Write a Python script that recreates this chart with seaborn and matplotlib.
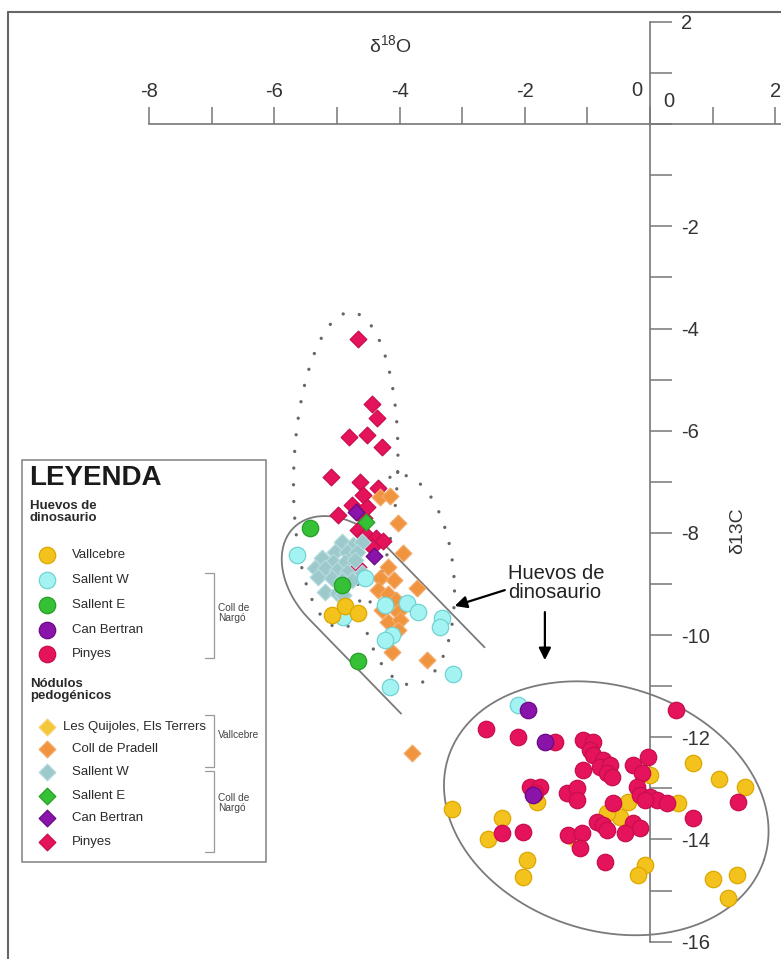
import numpy as np
import pandas as pd
import matplotlib
matplotlib.use("Agg")
import matplotlib.pyplot as plt
import seaborn as sns

# ---------------- data (δ18O, δ13C in ‰) ----------------
# Huevos de dinosaurio (circles)
egg_vallcebre_x = [-5.08, -4.87, -4.66, -3.16, -2.36, -2.59, -1.96, -2.03, -0.35, -0.48, -0.69,
                   0.00, 0.45, 0.69, 1.10, 1.52, -0.08, -0.19, 1.01, 1.39, 1.25, -1.81]
egg_vallcebre_y = [-9.61, -9.43, -9.57, -13.41, -13.58, -13.99, -14.40, -14.74, -13.27, -13.56, -13.48,
                   -12.74, -13.29, -12.50, -12.82, -12.97, -14.50, -14.70, -14.77, -14.70, -15.15, -13.27]

egg_sallentw_x = [-5.64, -4.55, -4.90, -4.23, -3.88, -3.71, -4.12, -4.23, -3.32, -3.35, -3.15, -4.15, -2.11]
egg_sallentw_y = [-8.43, -8.88, -9.65, -9.41, -9.37, -9.55, -10.00, -10.10, -9.67, -9.84, -10.76, -11.02, -11.37]

egg_sallente_x = [-5.43, -4.92, -4.66]
egg_sallente_y = [-7.91, -9.02, -10.51]

egg_canbertran_x = [-1.95, -1.68, -1.87]
egg_canbertran_y = [-11.47, -12.09, -13.13]

egg_pinyes_x = [0.42, -2.62, -2.11, -1.52, -1.07, -0.91, -0.96, -0.91, -0.75, -0.80, -0.64, -0.69,
                -0.61, -1.07, -0.27, -0.03, -0.13, -1.92, -1.76, -1.84, -1.33, -1.17, -1.17, -0.21,
                -0.16, 0.00, 0.11, 0.27, -0.59, -0.08, 1.41, 0.69, -0.85, -0.75, -0.69, -0.27,
                -0.16, -0.40, -2.36, -2.03, -1.31, -1.09, -1.12, -0.72]
egg_pinyes_y = [-11.47, -11.84, -11.99, -12.09, -12.05, -12.09, -12.25, -12.35, -12.45, -12.58, -12.54, -12.70,
                -12.78, -12.64, -12.54, -12.39, -12.70, -12.97, -12.97, -13.09, -13.09, -12.99, -13.23, -12.97,
                -13.13, -13.17, -13.23, -13.29, -13.29, -13.23, -13.27, -13.58, -13.66, -13.72, -13.82, -13.68,
                -13.78, -13.87, -13.87, -13.86, -13.91, -13.87, -14.17, -14.44]

# Nódulos pedogénicos (diamonds)
nod_quijoles_x = [-1.20]
nod_quijoles_y = [-14.05]

nod_pradell_x = [-4.31, -4.15, -4.03, -3.95, -4.19, -4.31, -4.09, -3.72, -4.35, -4.19, -4.06, -4.28,
                 -4.03, -4.19, -3.99, -4.03, -4.12, -3.56, -3.80]
nod_pradell_y = [-7.30, -7.28, -7.81, -8.40, -8.67, -8.88, -8.92, -9.08, -9.12, -9.20, -9.32, -9.51,
                 -9.55, -9.75, -9.71, -9.90, -10.33, -10.49, -12.31]

nod_sallentw_x = [-4.92, -4.74, -4.60, -5.03, -4.84, -4.68, -5.24, -5.06, -4.87, -4.71, -5.35, -5.19,
                  -5.00, -4.84, -4.60, -5.30, -5.08, -4.92, -4.76, -5.19, -5.00, -4.90]
nod_sallentw_y = [-8.18, -8.24, -8.18, -8.38, -8.38, -8.38, -8.49, -8.57, -8.57, -8.53, -8.69, -8.69,
                  -8.73, -8.77, -8.79, -8.86, -8.88, -8.92, -8.92, -9.16, -9.18, -9.22]

nod_sallente_x = [-4.54]
nod_sallente_y = [-7.79]

nod_canbertran_x = [-4.70, -4.41]
nod_canbertran_y = [-7.59, -8.45]

nod_pinyes_x = [-4.66, -4.44, -4.36, -4.81, -4.52, -4.28, -5.10, -4.63, -4.35, -4.58, -4.76, -4.98,
                -4.68, -4.57, -4.66, -4.54, -4.38, -4.27, -4.44, -4.52, -5.14, -4.66]
nod_pinyes_y = [-4.21, -5.48, -5.75, -6.13, -6.09, -6.32, -6.91, -7.01, -7.12, -7.26, -7.46, -7.65,
                -7.59, -7.71, -7.95, -8.04, -8.10, -8.16, -8.28, -7.49, -8.69, -8.67]

x_ticks = [-8, -7, -6, -5, -4, -3, -2, -1, 0, 1, 2]
x_tick_labels = ["-8", "", "-6", "", "-4", "", "-2", "", "", "", "2"]
y_ticks = list(range(-16, 3))
y_tick_labels = ["-16", "", "-14", "", "-12", "", "-10", "", "-8", "", "-6", "", "-4", "", "-2", "", "", "", "2"]

# ---------------- styling ----------------
C_GOLD = "#f4c21c"
C_CYAN = "#a4f3f3"
C_GREEN = "#35c035"
C_PURPLE = "#8a14aa"
C_CRIMSON = "#e5125c"
C_ORANGE = "#f09440"
C_TEAL = "#9cc9cc"
C_QUIJ = "#f5c63a"

EDGE = {C_GOLD: "#dca800", C_CYAN: "#72d2d2", C_GREEN: "#27a027", C_PURPLE: "#6a0a86",
        C_CRIMSON: "#c80e4d", C_ORANGE: "#f5a865", C_TEAL: "#b5dadc", C_QUIJ: "#f7d470"}

S_CIRCLE = 140
S_DIAMOND = 72

sns.set_style("white")
plt.rcParams["font.family"] = ["Liberation Sans", "DejaVu Sans"]
plt.rcParams["mathtext.fontset"] = "custom"
plt.rcParams["mathtext.rm"] = "Liberation Sans"

W, H = 781, 959
XLIM = (-10.38, 2.09)
YLIM = (-16.34, 2.43)
PX_X = W / (XLIM[1] - XLIM[0])
PX_Y = H / (YLIM[1] - YLIM[0])
K = PX_X / PX_Y

fig = plt.figure(figsize=(W / 100, H / 100), dpi=100)
ax = fig.add_axes([0, 0, 1, 1])
ax.set_xlim(*XLIM)
ax.set_ylim(*YLIM)

# series: (x, y, colour, marker, size, zorder)
series = [
    (nod_quijoles_x, nod_quijoles_y, C_QUIJ, "D", S_DIAMOND, 3),
    (nod_pinyes_x, nod_pinyes_y, C_CRIMSON, "D", S_DIAMOND, 3),
    (nod_pradell_x, nod_pradell_y, C_ORANGE, "D", S_DIAMOND, 3),
    (nod_sallentw_x, nod_sallentw_y, C_TEAL, "D", S_DIAMOND, 3),
    (nod_sallente_x, nod_sallente_y, C_GREEN, "D", S_DIAMOND, 3),
    (nod_canbertran_x, nod_canbertran_y, C_PURPLE, "D", S_DIAMOND, 3),
    (egg_sallentw_x, egg_sallentw_y, C_CYAN, "o", S_CIRCLE, 4),
    (egg_vallcebre_x, egg_vallcebre_y, C_GOLD, "o", S_CIRCLE, 4),
    (egg_pinyes_x, egg_pinyes_y, C_CRIMSON, "o", S_CIRCLE, 4),
    (egg_sallente_x, egg_sallente_y, C_GREEN, "o", S_CIRCLE, 4),
    (egg_canbertran_x, egg_canbertran_y, C_PURPLE, "o", S_CIRCLE, 4),
]
for xs, ys, col, mk, sz, z in series:
    df = pd.DataFrame({"d18O": xs, "d13C": ys})
    sns.scatterplot(data=df, x="d18O", y="d13C", ax=ax, color=col, marker=mk, s=sz,
                    edgecolor=EDGE[col], linewidth=0.9, legend=False, zorder=z)


# ---------------- envelopes ----------------
def ellipse(cx, cy, a, b, ang, n=400):
    t = np.linspace(0, 2 * np.pi, n)
    u, v = a * np.cos(t), b * np.sin(t)
    r = np.deg2rad(ang)
    X = u * np.cos(r) - v * np.sin(r)
    Y = u * np.sin(r) + v * np.cos(r)
    return cx + X, cy + Y * K


def envelope(cx, cy, half_w, cap, len_hi, len_lo, ang):
    r = np.deg2rad(ang)
    ux, uy = np.cos(r), np.sin(r)
    nx, ny = -np.sin(r), np.cos(r)
    phi = np.linspace(0, np.pi, 150)
    s = np.concatenate([[len_hi], -cap * np.sin(phi), [len_lo]])
    t = np.concatenate([[half_w], half_w * np.cos(phi), [-half_w]])
    return cx + s * ux + t * nx, cy + (s * uy + t * ny) * K


dotted = dict(color="#666666", lw=2.4, linestyle=(0, (0.01, 5.0)),
              dash_capstyle="round", solid_capstyle="round", zorder=2)
ax.plot(*ellipse(-4.86, -6.77, 0.83, 2.52, -2), **dotted)
ax.plot(*ellipse(-3.90, -8.92, 0.77, 1.68, 4), **dotted)

solid = dict(color="#7a7a7a", lw=1.3, zorder=2)
ax.plot(*envelope(-4.84, -8.96, 0.847, 1.214, 2.28, 2.11, -45.8), **solid)
ax.plot(*ellipse(-0.70, -13.39, 2.65, 1.95, -18), **solid)

# ---------------- crossing axes ----------------
AX_COL = "#777777"
TXT_COL = "#333333"
for side in ("bottom", "left"):
    ax.spines[side].set_visible(False)
ax.spines["top"].set_position(("data", 0))
ax.spines["top"].set_bounds(-8, XLIM[1])
ax.spines["right"].set_position(("data", 0))
ax.spines["right"].set_bounds(-16, 2)
for side in ("top", "right"):
    ax.spines[side].set_color(AX_COL)
    ax.spines[side].set_linewidth(1.2)

ax.xaxis.set_ticks_position("top")
ax.xaxis.set_label_position("top")
ax.set_xticks(x_ticks)
ax.set_xticklabels(x_tick_labels)
ax.tick_params(axis="x", direction="out", length=12, width=1.1, color=AX_COL,
               pad=5, labelsize=14.5, labelcolor=TXT_COL)

ax.yaxis.set_ticks_position("right")
ax.set_yticks(y_ticks)
ax.set_yticklabels(y_tick_labels)
ax.tick_params(axis="y", direction="out", length=16, width=1.1, color=AX_COL,
               pad=6, labelsize=14.5, labelcolor=TXT_COL)
ax.set_xlabel("")
ax.set_ylabel("")

ax.text(-0.21, 0.66, "0", ha="center", va="center", fontsize=14.5, color=TXT_COL)
ax.text(0.30, 0.45, "0", ha="center", va="center", fontsize=14.5, color=TXT_COL)
ax.text(-4.15, 1.55, r"$\mathregular{\delta^{18}O}$", ha="center", va="center",
        fontsize=14, color=TXT_COL)
ax.text(1.40, -7.95, "δ13C", ha="center", va="center", rotation=90,
        fontsize=14, color=TXT_COL)

# outer frame (top and left edges)
ax.plot([8 / W, 1], [1 - 12 / H, 1 - 12 / H], transform=ax.transAxes, color="#666666",
        lw=1.5, clip_on=False)
ax.plot([8 / W, 8 / W], [0, 1 - 12 / H], transform=ax.transAxes, color="#666666",
        lw=1.5, clip_on=False)

# annotation
ax.text(-2.27, -8.98, "Huevos de\ndinosaurio", ha="left", va="center", fontsize=14.5,
        color="#222222", linespacing=1.0, zorder=6)
arrow = dict(arrowstyle="-|>", color="black", lw=1.6, mutation_scale=18, shrinkA=0, shrinkB=0)
ax.annotate("", xy=(-3.12, -9.43), xytext=(-2.32, -9.12), arrowprops=arrow, zorder=6)
ax.annotate("", xy=(-1.68, -10.49), xytext=(-1.68, -9.55), arrowprops=arrow, zorder=6)


# ---------------- legend panel ----------------
def fp(px, py):
    return px / W, 1 - py / H


tr = ax.transAxes
box = plt.Rectangle(fp(22, 862), (266 - 22) / W, (862 - 460) / H, transform=tr,
                    facecolor="white", edgecolor="#8a8a8a", lw=1.2, zorder=7)
ax.add_patch(box)

ax.text(*fp(29, 478), "LEYENDA", transform=tr, ha="left", va="center", fontsize=20,
        fontweight="bold", color="#1a1a1a", zorder=8)
ax.text(*fp(30, 512), "Huevos de\ndinosaurio", transform=tr, ha="left", va="center",
        fontsize=9.5, fontweight="bold", color="#2a2a2a", linespacing=1.0, zorder=8)
ax.text(*fp(30, 690), "Nódulos\npedogénicos", transform=tr, ha="left", va="center",
        fontsize=9.5, fontweight="bold", color="#2a2a2a", linespacing=1.0, zorder=8)

egg_items = [("Vallcebre", C_GOLD), ("Sallent W", C_CYAN), ("Sallent E", C_GREEN),
             ("Can Bertran", C_PURPLE), ("Pinyes", C_CRIMSON)]
egg_rows = [555, 580, 605, 630, 654]
for (lab, col), py in zip(egg_items, egg_rows):
    ax.scatter(*fp(47, py), transform=tr, s=S_CIRCLE, marker="o", color=col,
               edgecolor=EDGE[col], linewidth=0.9, zorder=8, clip_on=False)
    ax.text(*fp(72, py), lab, transform=tr, ha="left", va="center", fontsize=9.5,
            color="#2a2a2a", zorder=8)

nod_items = [("Les Quijoles, Els Terrers", C_QUIJ), ("Coll de Pradell", C_ORANGE),
             ("Sallent W", C_TEAL), ("Sallent E", C_GREEN), ("Can Bertran", C_PURPLE),
             ("Pinyes", C_CRIMSON)]
nod_rows = [727, 749, 772, 796, 818, 842]
for (lab, col), py in zip(nod_items, nod_rows):
    ax.scatter(*fp(47, py), transform=tr, s=S_DIAMOND, marker="D", color=col,
               edgecolor=EDGE[col], linewidth=0.9, zorder=8, clip_on=False)
    long_label = len(lab) > 20
    ax.text(*fp(63 if long_label else 72, py), lab, transform=tr, ha="left", va="center",
            fontsize=9.5, color="#2a2a2a", zorder=8)


def bracket(py0, py1, label, ly):
    xs = [205 / W, 214 / W, 214 / W, 205 / W]
    ys = [1 - py0 / H, 1 - py0 / H, 1 - py1 / H, 1 - py1 / H]
    ax.plot(xs, ys, transform=tr, color="#9a9a9a", lw=0.9, zorder=8)
    ax.text(*fp(218, ly), label, transform=tr, ha="left", va="center", fontsize=7.3,
            color="#444444", linespacing=1.05, zorder=8)


bracket(573, 658, "Coll de\nNargó", 613)
bracket(715, 767, "Vallcebre", 735)
bracket(771, 852, "Coll de\nNargó", 803)

fig.savefig("out.png", dpi=100)
